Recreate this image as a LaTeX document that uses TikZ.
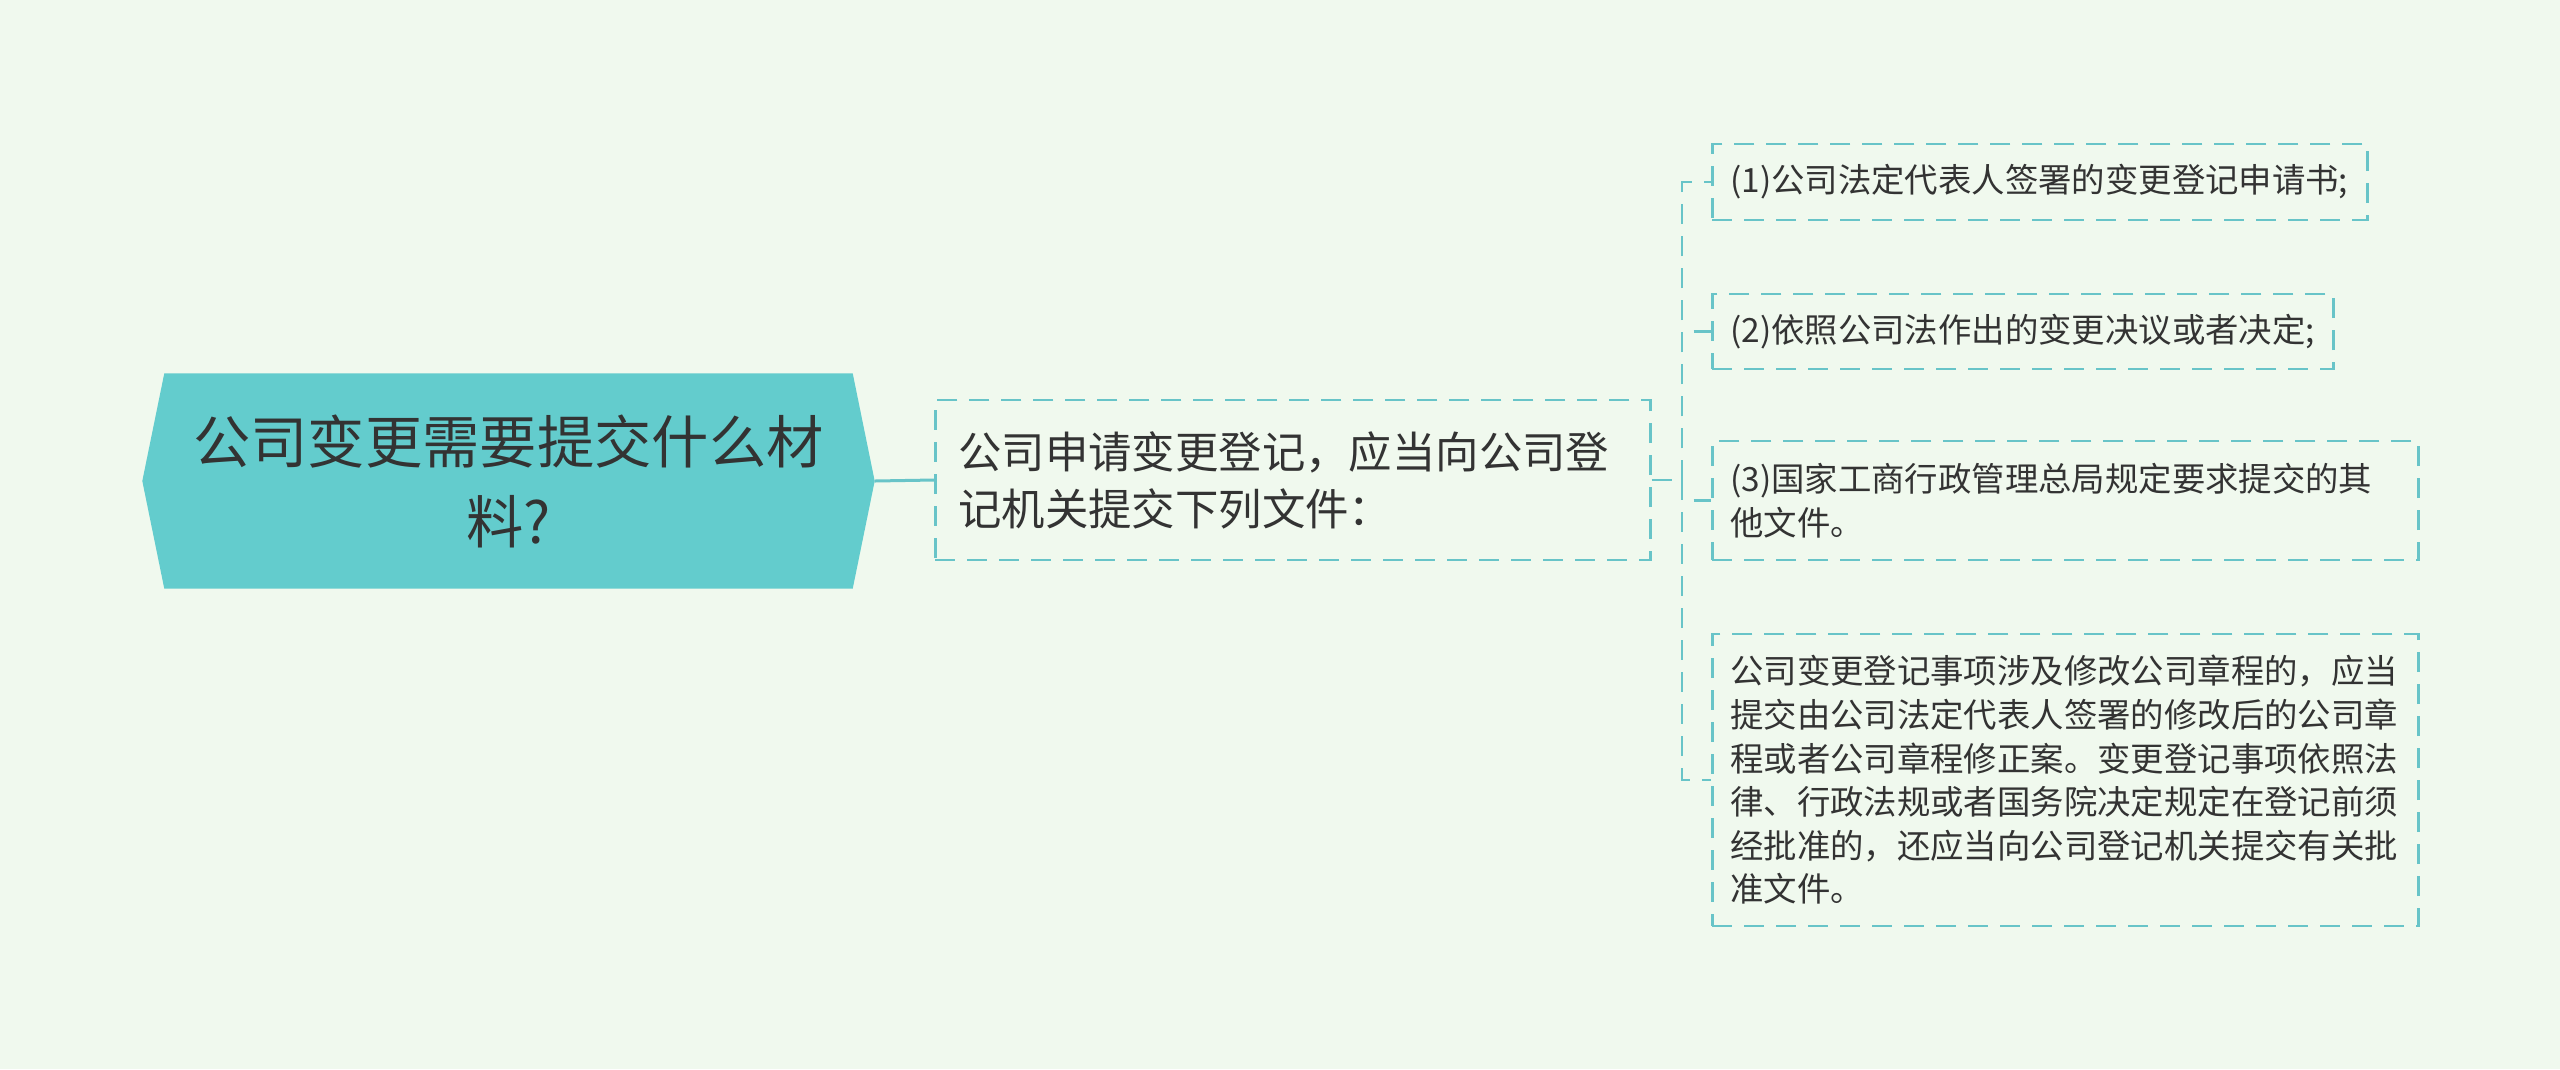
\documentclass[tikz,border=0pt]{standalone}
\usepackage{fontspec}
\usepackage{tikz}
\usetikzlibrary{backgrounds}
\newfontfamily\cjk{Noto Sans CJK SC}
\definecolor{paper}{RGB}{240, 249, 238}
\definecolor{sea}{RGB}{99, 204, 205}
\definecolor{edge}{RGB}{104, 196, 200}
\definecolor{ink}{RGB}{51, 51, 51}
\newcommand*{\tipx}{2.2mm}

\begin{document}
\begin{tikzpicture}[x=0.1mm, y=-0.1mm, font=\cjk, text=ink,
  box/.style={draw=edge, line width=0.25mm, dash pattern=on 2mm off 1.2mm,
    anchor=west, align=left, inner xsep=1.8mm, inner ysep=0mm},
  small/.style={font=\cjk\fontsize{9.5pt}{12.4pt}\selectfont},
  link/.style={draw=edge, line width=0.25mm, dash pattern=on 2mm off 1.2mm}]
  \useasboundingbox (0, 0) rectangle (2560, 1069);

  \node[minimum width=68.7mm, minimum height=21.4mm, align=center,
    font=\cjk\fontsize{16.3pt}{22.8pt}\selectfont] (root) at (508.5, 481)
    {公司变更需要提交什么材\\料?};

  \begin{pgfonlayer}{background}
    \fill[paper] (0, 0) rectangle (2560, 1069);
    \fill[sea] ([xshift=-\tipx]root.west) -- (root.north west) -- (root.north east)
      -- ([xshift=\tipx]root.east) -- (root.south east) -- (root.south west) -- cycle;
  \end{pgfonlayer}
  \coordinate (tip) at ([xshift=\tipx]root.east);

  \node[box, inner xsep=2.3mm, text width=66.9mm, minimum height=16mm,
    font=\cjk\fontsize{12.35pt}{16.2pt}\selectfont] (ask) at (934, 480)
    {公司申请变更登记，应当向公司登\\记机关提交下列文件：};

  \node[box, small, text width=61.9mm, minimum height=7.6mm] (c1) at (1711, 182)
    {(1)公司法定代表人签署的变更登记申请书;};
  \node[box, small, text width=58.5mm, minimum height=7.5mm] (c2) at (1711, 331.5)
    {(2)依照公司法作出的变更决议或者决定;};
  \node[box, small, text width=67mm, minimum height=11.9mm] (c3) at (1711, 500.5)
    {(3)国家工商行政管理总局规定要求提交的其\\他文件。};
  \node[box, small, text width=67mm, minimum height=29.2mm] (c4) at (1711, 780)
    {公司变更登记事项涉及修改公司章程的，应当\\
     提交由公司法定代表人签署的修改后的公司章\\
     程或者公司章程修正案。变更登记事项依照法\\
     律、行政法规或者国务院决定规定在登记前须\\
     经批准的，还应当向公司登记机关提交有关批\\
     准文件。};

  \draw[edge, line width=0.3mm] (tip) -- (ask.west);

  \coordinate (fork) at (1682, 480);
  \draw[link] (ask.east) -- (fork);
  \foreach \n in {c1, c2, c3, c4}
    \draw[link] (fork) |- (\n.west);
\end{tikzpicture}
\end{document}
